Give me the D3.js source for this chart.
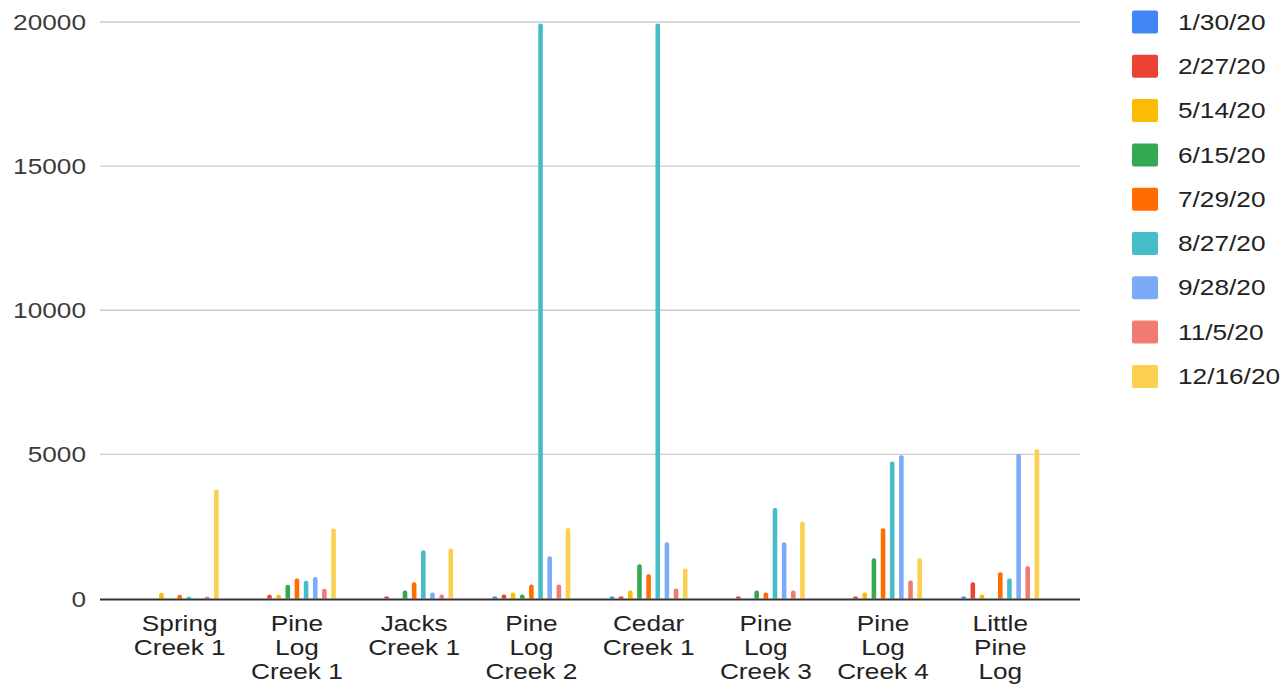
<!DOCTYPE html>
<html>
<head>
<meta charset="utf-8">
<script src="https://cdn.jsdelivr.net/npm/d3@7"></script>
<style>
  html, body { margin: 0; padding: 0; background: #fff; }
  svg { display: block; font-family: "Liberation Sans", Arial, sans-serif; }
</style>
</head>
<body>
<svg id="chart" width="1282" height="685"></svg>
<script>
// Sampling sites along the x axis (multi-line labels)
const sites = [
  ["Spring", "Creek 1"],
  ["Pine", "Log", "Creek 1"],
  ["Jacks", "Creek 1"],
  ["Pine", "Log", "Creek 2"],
  ["Cedar", "Creek 1"],
  ["Pine", "Log", "Creek 3"],
  ["Pine", "Log", "Creek 4"],
  ["Little", "Pine", "Log"]
];

// Sampling dates (one series each)
const dates = ["1/30/20", "2/27/20", "5/14/20", "6/15/20", "7/29/20", "8/27/20", "9/28/20", "11/5/20", "12/16/20"];
const colors = ["#4285F4", "#EA4335", "#FBBC04", "#34A853", "#FF6D01", "#46BDC6", "#7BAAF7", "#F07B72", "#FCD04F"];

// Values per date, one entry per site (null = no sample)
const s0130 = [null, null, null, 70, 70, null, null, 70];
const s0227 = [null, 130, 70, 140, 70, 70, 70, 565];
const s0514 = [200, 130, null, 210, 280, null, 210, 140];
const s0615 = [null, 475, 280, 140, 1190, 280, 1400, null];
const s0729 = [130, 690, 565, 485, 845, 210, 2440, 910];
const s0827 = [60, 620, 1675, 19950, 19950, 3140, 4750, 690];
const s0928 = [null, 750, 210, 1465, 1950, 1950, 4970, 5010];
const s1105 = [60, 340, 140, 485, 345, 280, 625, 1120];
const s1216 = [3780, 2430, 1735, 2450, 1040, 2660, 1400, 5180];
const seriesValues = [s0130, s0227, s0514, s0615, s0729, s0827, s0928, s1105, s1216];

const yTicks = [0, 5000, 10000, 15000, 20000];

const svg = d3.select("#chart");
const plotLeft = 100, plotRight = 1080, plotTop = 22, plotBottom = 598.5;
const stretch = 1.22;
const fontSize = 21.5;

const siteKeys = sites.map(d => d.join(" "));
const x0 = d3.scaleBand().domain(siteKeys).range([plotLeft, plotRight]).paddingInner(0).paddingOuter(0.18);
const groupHalf = 41.2;
const x1 = d3.scaleBand().domain(dates).range([-groupHalf, groupHalf]).paddingInner(0.5).paddingOuter(0.25);
const y = d3.scaleLinear().domain([0, 20000]).range([plotBottom, plotTop]);

// Gridlines
svg.append("g").selectAll("line")
  .data(yTicks.filter(t => t > 0))
  .join("line")
  .attr("x1", plotLeft).attr("x2", plotRight)
  .attr("y1", d => y(d)).attr("y2", d => y(d))
  .attr("stroke", "#cccccc").attr("stroke-width", 1.3);

// Y tick labels
svg.append("g").selectAll("text")
  .data(yTicks)
  .join("text")
  .attr("transform", d => `translate(86,${d === 0 ? 599 : y(d)}) scale(${stretch},1)`)
  .attr("text-anchor", "end")
  .attr("dominant-baseline", "central")
  .attr("font-size", fontSize)
  .attr("fill", "#3c3c3c")
  .text(d => d);

// Bars with rounded tops
function barPath(x, w, y0, y1) {
  const h = y0 - y1;
  const r = Math.min(2, w / 2, h / 2);
  return `M${x},${y0}V${y1 + r}Q${x},${y1} ${x + r},${y1}H${x + w - r}Q${x + w},${y1} ${x + w},${y1 + r}V${y0}Z`;
}

const barData = [];
seriesValues.forEach((vals, si) => {
  vals.forEach((v, ci) => {
    if (v != null && v > 0) barData.push({ site: siteKeys[ci], date: dates[si], color: colors[si], value: v });
  });
});

svg.append("g").selectAll("path")
  .data(barData)
  .join("path")
  .attr("d", d => {
    const cx = x0(d.site) + x0.bandwidth() / 2;
    return barPath(cx + x1(d.date), x1.bandwidth(), y(0), y(d.value));
  })
  .attr("fill", d => d.color);

// Baseline
svg.append("line")
  .attr("x1", plotLeft).attr("x2", plotRight)
  .attr("y1", y(0) + 1).attr("y2", y(0) + 1)
  .attr("stroke", "#333").attr("stroke-width", 2);

// Category labels
const catG = svg.append("g").selectAll("g")
  .data(sites)
  .join("g");
catG.each(function(lines, i) {
  const cx = x0(siteKeys[i]) + x0.bandwidth() / 2;
  d3.select(this).selectAll("text")
    .data(lines)
    .join("text")
    .attr("transform", (d, j) => `translate(${cx},${623 + j * 24}) scale(${stretch},1)`)
    .attr("text-anchor", "middle")
    .attr("dominant-baseline", "central")
    .attr("font-size", fontSize)
    .attr("fill", "#222")
    .text(d => d);
});

// Legend
const leg = svg.append("g").selectAll("g")
  .data(dates)
  .join("g")
  .attr("transform", (d, i) => `translate(1132,${22 + i * 44.3})`);
leg.append("rect")
  .attr("x", 0).attr("y", -11.5)
  .attr("width", 26).attr("height", 23)
  .attr("rx", 2)
  .attr("fill", (d, i) => colors[i]);
leg.append("text")
  .attr("transform", `translate(46,0) scale(${stretch},1)`)
  .attr("dominant-baseline", "central")
  .attr("font-size", fontSize)
  .attr("fill", "#222")
  .text(d => d);
</script>
</body>
</html>
